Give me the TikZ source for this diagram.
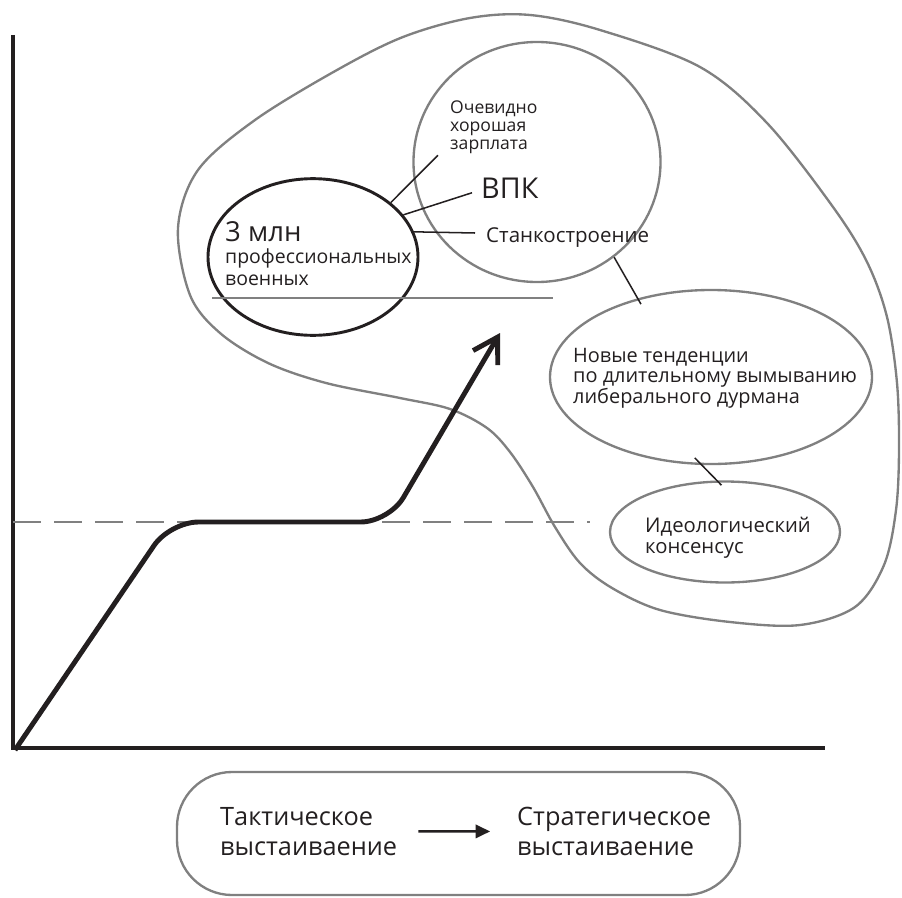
\documentclass[tikz,border=0pt]{standalone}
\usepackage{fontspec}
\setmainfont{Open Sans}
\usetikzlibrary{arrows.meta, positioning, calc, shapes.geometric}
\definecolor{ink}{HTML}{231F20}
\definecolor{rim}{HTML}{808080}

\begin{document}
\begin{tikzpicture}[
  x=0.03cm, y=-0.03cm,
  bubble/.style={ellipse, draw=rim, line width=2pt, inner sep=0pt},
  rimline/.style={draw=rim, line width=2pt},
  lead/.style={draw=ink, line width=1.3pt},
  blurb/.style={inner sep=0pt, align=left, text=ink, anchor=north west,
                font=\fontsize{17}{17.5}\selectfont},
  growth/.style={draw=ink, line width=4.2pt,
                 -{Straight Barb[length=0.72cm, width=0.86cm]}},
  flow/.style={draw=ink, line width=2.2pt, -{Triangle[length=4.3mm, width=4mm]}}
]
  \useasboundingbox (0,0) rectangle (902,897);

  % axes and level
  \draw[ink, line width=2.8pt] (13,35) -- (13,748) -- (825,748);
  \draw[rimline, dash pattern=on 24pt off 11pt] (13,522) -- (590,522);

  % outer region
  \draw[rimline] plot[smooth cycle, tension=0.55] coordinates {
    (178,228) (198,170) (255,120) (337,70) (403,37) (470,18) (530,15)
    (600,30) (700,67) (767,123) (833,207) (867,262) (887,317) (897,383)
    (899,450) (896,510) (884,565) (855,607) (800,625) (730,622) (660,610)
    (612,588) (580,563) (555,527) (533,487) (510,452) (487,428) (450,409)
    (400,398) (326,383) (268,363) (220,333) (190,295)};

  \node[bubble, minimum width=7.41cm, minimum height=7.2cm] (wage) at (537,162) {};
  \node[bubble, minimum width=9.66cm, minimum height=5.22cm] (trend) at (711,377) {};
  \node[bubble, minimum width=6.9cm, minimum height=3.03cm] (ideo) at (725,532) {};
  \node[bubble, draw=ink, line width=2.5pt, minimum width=6.3cm,
        minimum height=4.7cm] (army) at (313,257) {};
  \draw[rimline] (212,298) -- (553,298);

  % texts
  \node[blurb, font=\fontsize{15}{15.3}\selectfont] (salary) at (450,101)
    {Очевидно\\хорошая\\зарплата};
  \node[blurb, anchor=base west, font=\fontsize{24.5}{26}\selectfont] (vpk) at (481,198) {ВПК};
  \node[blurb, anchor=base west, font=\fontsize{17.5}{19}\selectfont] (machine) at (486,242)
    {Станкостроение};
  \node[blurb, font=\fontsize{16.6}{18.8}\selectfont] (troops) at (225,221)
    {{\fontsize{23.5}{24}\selectfont 3 млн}\\профессиональных\\военных};
  \node[blurb] (trendtext) at (573,348)
    {Новые тенденции\\по длительному вымыванию\\либерального дурмана};
  \node[blurb, font=\fontsize{17.3}{18}\selectfont] (ideotext) at (645,517)
    {Идеологический\\консенсус};

  \draw[lead] (army.35) -- ($(salary.south west)+(-12,1)$);
  \draw[lead] (army.25) -- ($(vpk.west)+(-9,5)$);
  \draw[lead] (army.14) -- ($(machine.base west)+(-11,-9)$);
  \draw[lead, shorten >=-2mm] (wage.-51) -- (trend.133);
  \draw[lead, shorten <=-3mm, shorten >=-2mm] (trend.-96) -- (ideo.99);

  % growth curve
  \draw[growth, rounded corners=0.85cm] (15,750) -- (170,522) -- (389,522) -- (500,333);

  % legend
  \node[draw=rim, line width=2pt, rounded corners=1.65cm, minimum width=16.89cm,
        minimum height=3.69cm] (legend) at (458.5,833.5) {};
  \node[blurb, font=\fontsize{21.6}{25.5}\selectfont] (tact) at (220,807)
    {Тактическое\\выстаиваение};
  \node[blurb, font=\fontsize{21.6}{25.5}\selectfont] (strat) at (517,807)
    {Стратегическое\\выстаиваение};
  \draw[flow, shorten <=18pt, shorten >=23pt] (tact.east) -- (strat.west);
\end{tikzpicture}
\end{document}
